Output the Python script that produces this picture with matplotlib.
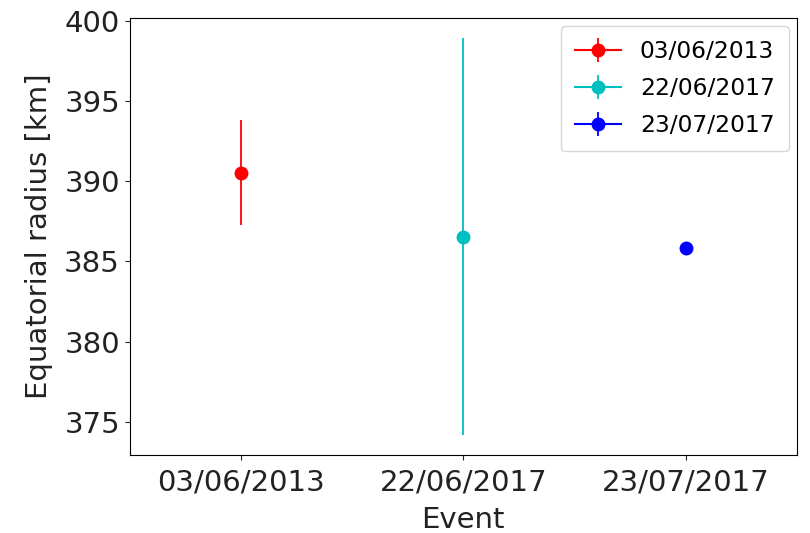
import matplotlib
matplotlib.use('Agg')
import matplotlib.pyplot as plt

events = ['03/06/2013', '22/06/2017', '23/07/2017']
radius = [390.55, 386.55, 385.85]
radius_err = [3.3, 12.4, 0.3]
colors = ['r', 'c', 'b']

fig = plt.figure(figsize=(8.1, 5.33), dpi=100)
ax = fig.add_axes([0.160, 0.146, 0.824, 0.820])

for i, ev in enumerate(events):
    ax.errorbar(i, radius[i], yerr=radius_err[i], fmt='-o', color=colors[i],
                markersize=9, elinewidth=1.3, label=ev)

ax.set_xticks(range(len(events)))
ax.set_xticklabels(events)
ax.set_xlim(-0.5, 2.5)
ax.tick_params(labelsize=21, colors='#222222')
ax.tick_params(axis='x', pad=6)
ax.set_xlabel('Event', fontsize=21, labelpad=7, color='#222222')
ax.set_ylabel('Equatorial radius [km]', fontsize=21, labelpad=8, color='#222222')
ax.legend(fontsize=16.8, loc='upper right', labelspacing=0.6,
          borderpad=0.6, borderaxespad=0.35)

fig.savefig('out.png', dpi=100)
